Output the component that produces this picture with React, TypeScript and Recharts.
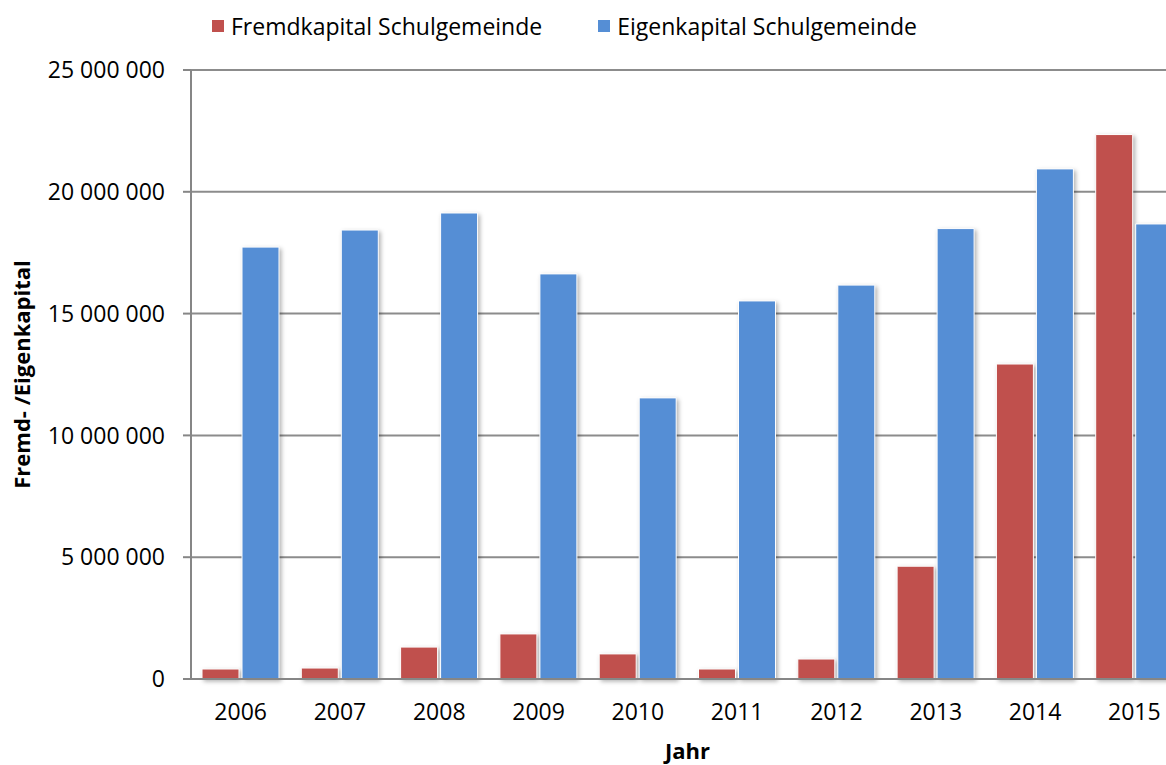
import React from "react";
import {
  BarChart,
  Bar,
  XAxis,
  YAxis,
  CartesianGrid,
  Legend,
} from "recharts";

const years = ["2006", "2007", "2008", "2009", "2010", "2011", "2012", "2013", "2014", "2015"];
const fremdkapital = [410000, 450000, 1310000, 1850000, 1030000, 410000, 820000, 4630000, 12930000, 22350000];
const eigenkapital = [17730000, 18430000, 19130000, 16630000, 11540000, 15520000, 16170000, 18490000, 20940000, 18680000];
const yTicks = [0, 5000000, 10000000, 15000000, 20000000, 25000000];

const data = years.map((year, i) => ({
  year,
  fremd: fremdkapital[i],
  eigen: eigenkapital[i],
}));

const FONT = "'Open Sans', sans-serif";
const RED = "#C0504D";
const BLUE = "#558ED5";

// 25000000 -> "25 000 000"
const formatNumber = (v: number) =>
  String(v).replace(/\B(?=(\d{3})+(?!\d))/g, " ");

const renderLegend = () => {
  const items = [
    { label: "Fremdkapital Schulgemeinde", color: RED },
    { label: "Eigenkapital Schulgemeinde", color: BLUE },
  ];
  return (
    <div style={{ display: "flex", alignItems: "center", fontFamily: FONT, fontSize: 23, color: "#000" }}>
      {items.map((item, index) => (
        <div key={`item-${index}`} style={{ display: "flex", alignItems: "center", marginRight: 56 }}>
          <span style={{ width: 12, height: 12, background: item.color, marginRight: 7, display: "inline-block" }}></span>
          <span>{item.label}</span>
        </div>
      ))}
    </div>
  );
};

const App: React.FC = () => {
  return (
    <div style={{ position: "fixed", left: 0, top: 0, width: 1166, height: 765, overflow: "hidden", background: "#fff" }}>
      <style>{`.recharts-bar-rectangle path { filter: drop-shadow(2px 2px 2px rgba(0,0,0,0.3)); }`}</style>
      <BarChart
        width={1184}
        height={765}
        data={data}
        margin={{ top: 70, right: 0, bottom: 0, left: 0 }}
        barCategoryGap={11}
        barGap={3}
      >
        <CartesianGrid vertical={false} stroke="#8c8c8c" strokeWidth={2} />
        <XAxis
          dataKey="year"
          axisLine={{ stroke: "#868686", strokeWidth: 2 }}
          tickLine={false}
          tickMargin={19}
          tick={{ fill: "#000", fontSize: 23, fontFamily: FONT }}
          height={86}
          label={{
            value: "Jahr",
            position: "insideBottom",
            offset: 6,
            style: { fontFamily: FONT, fontSize: 22, fontWeight: "bold", fill: "#000" },
          }}
        />
        <YAxis
          width={191}
          domain={[0, 25000000]}
          ticks={yTicks}
          tickFormatter={formatNumber}
          axisLine={{ stroke: "#868686", strokeWidth: 2 }}
          tickLine={{ stroke: "#868686", strokeWidth: 2 }}
          tickSize={8}
          tickMargin={18}
          tick={{ fill: "#000", fontSize: 23, fontFamily: FONT }}
          label={{
            value: "Fremd- /Eigenkapital",
            angle: -90,
            position: "insideLeft",
            offset: 22,
            style: { textAnchor: "middle", fontFamily: FONT, fontSize: 22, fontWeight: "bold", fill: "#000" },
          }}
        />
        <Legend
          layout="horizontal"
          verticalAlign="middle"
          align="center"
          content={renderLegend}
          wrapperStyle={{ top: 10, left: 212, width: 900 }}
        />
        <Bar dataKey="fremd" name="Fremdkapital Schulgemeinde" fill={RED} stroke="#fff" strokeWidth={1} isAnimationActive={false} />
        <Bar dataKey="eigen" name="Eigenkapital Schulgemeinde" fill={BLUE} stroke="#fff" strokeWidth={1} isAnimationActive={false} />
      </BarChart>
    </div>
  );
};

export default App;
